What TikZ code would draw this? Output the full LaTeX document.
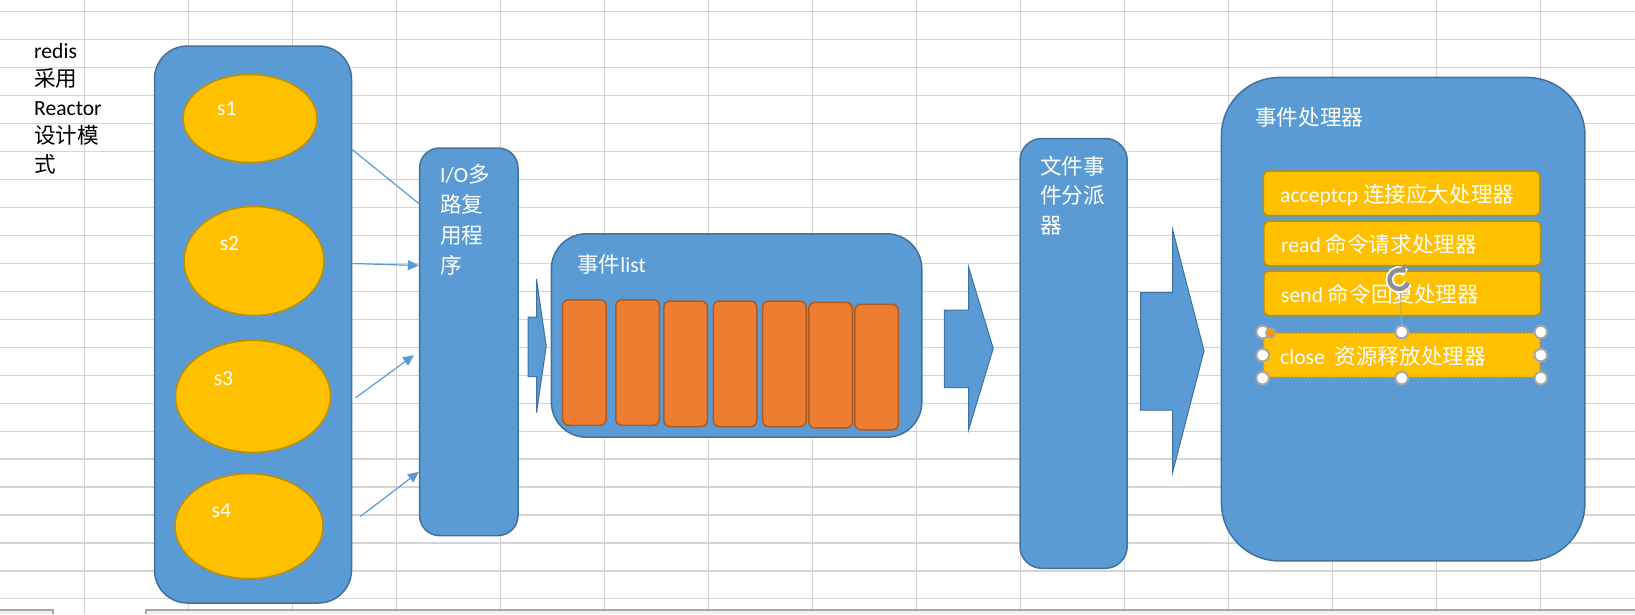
\documentclass[tikz,border=0pt]{standalone}
\usepackage{fontspec}
\setmainfont{Carlito}
\newfontfamily\cjk{Noto Sans CJK SC}
\usetikzlibrary{arrows.meta,shapes.geometric}
\definecolor{boxblue}{HTML}{5B9BD5}
\definecolor{boxedge}{HTML}{41719C}
\definecolor{gold}{HTML}{FFC000}
\definecolor{goldedge}{HTML}{BF9000}
\definecolor{evorange}{HTML}{ED7D31}
\definecolor{evedge}{HTML}{AE5A21}
\definecolor{gridgray}{HTML}{D4D4D4}
\definecolor{handlegray}{HTML}{A6A6A6}
\definecolor{rotgray}{HTML}{8F8F8F}
\begin{document}
\begin{tikzpicture}[x=1pt,y=-1pt,
  txt/.style={inner sep=0, anchor=base west, text=white, align=left, font=\fontsize{21.6}{30}\selectfont},
  bluebox/.style={draw=boxedge, line width=1.5pt, fill=boxblue, inner sep=0},
  sock/.style={ellipse, draw=goldedge, line width=1.5pt, fill=gold, inner sep=0},
  evslot/.style={draw=evedge, line width=1.5pt, fill=evorange, rounded corners=6pt, minimum width=43.5pt, minimum height=125.5pt, inner sep=0},
  handler/.style={draw=goldedge, line width=1.5pt, fill=gold, rounded corners=5pt, minimum width=276.7pt, minimum height=44.6pt, inner sep=0},
  wire/.style={boxblue, line width=1.2pt},
  bigarrow/.style={draw=boxedge, line width=1pt, fill=boxblue},
  handle/.style={draw=handlegray, line width=2pt, fill=white}]
\useasboundingbox (0,0) rectangle (1635,614);
\foreach \x in {0,...,14} \draw[gridgray, line width=1.2pt] (84.6+104*\x,0) -- (84.6+104*\x,614);
\foreach \y in {0,...,21} \draw[gridgray, line width=1.2pt] (0,11.7+27.96*\y) -- (1635,11.7+27.96*\y);
\fill[gray!12] (0,610) rectangle (53,614);
\fill[gray!12] (146,610) rectangle (1635,614);
\draw[gray!70, line width=1.2pt] (0,610) -- (53,610) -- (53,614);
\draw[gray!70, line width=1.2pt] (146,614) -- (146,610) -- (1635,610);

\node[txt, text=black, font=\fontsize{21.6}{28.5}\selectfont] (note) at (34,172) {redis\\{\cjk 采用}\\Reactor\\{\cjk 设计模}\\{\cjk 式}};

\node[bluebox, rounded corners=33pt, minimum width=197pt, minimum height=557pt] (sbox) at (253,324.5) {};
\node[sock, minimum width=134pt, minimum height=88pt] (s1) at (250,118.5) {};
\node[sock, minimum width=140pt, minimum height=109pt] (s2) at (254,261) {};
\node[sock, minimum width=155pt, minimum height=112pt] (s3) at (253,396.4) {};
\node[sock, minimum width=148pt, minimum height=105pt] (s4) at (249,526.2) {};
\node[txt] (s1lbl) at (217,115.5) {s1};
\node[txt] (s2lbl) at (219.6,250.6) {s2};
\node[txt] (s3lbl) at (213.6,385.7) {s3};
\node[txt] (s4lbl) at (211.4,517.6) {s4};

\node[bluebox, rounded corners=20pt, minimum width=98.4pt, minimum height=387.6pt] (iobox) at (468.8,341.8) {};
\node[txt, font=\fontsize{21.6}{30.5}\selectfont] (iolbl) at (440,273.5) {I/O{\cjk 多}\\{\cjk 路复}\\{\cjk 用程}\\{\cjk 序}};

\draw[wire] (sbox.east |- 0,149.6) -- (iobox.west |- 0,203.6);
\draw[wire, -{Triangle[length=11pt, width=10pt]}] (sbox.east |- 0,263.5) -- (iobox.west |- 0,265.5);
\draw[wire, -{Triangle[length=11pt, width=10pt]}, shorten <=4pt, shorten >=6pt] (sbox.east |- 0,400.2) -- (iobox.west |- 0,351.6);
\draw[wire, -{Triangle[length=11pt, width=10pt]}, shorten <=10pt] (sbox.east |- 0,522.7) -- (iobox.west |- 0,471.8);

\draw[bigarrow] (528,317) -- (536.5,317) -- (536.5,279) -- (546.2,346.3) -- (536.5,412.7) -- (536.5,376.5) -- (528,376.5) -- cycle;

\node[bluebox, rounded corners=35pt, minimum width=370.4pt, minimum height=203.4pt] (evlist) at (736.6,335.5) {};
\node[txt] (evlbl) at (577,272) {{\cjk 事件}list};
\foreach \x/\y [count=\i] in {584.4/362.5, 637.5/362.5, 685.6/363.8, 735/363.8, 784.3/363.8, 830.6/365.2, 876.5/367}
  \node[evslot] (ev\i) at (\x,\y) {};

\draw[bigarrow] (944.3,310) -- (968.7,310) -- (968.7,267.5) -- (993.2,348.5) -- (968.7,429.5) -- (968.7,387.7) -- (944.3,387.7) -- cycle;

\node[bluebox, rounded corners=22pt, minimum width=107.2pt, minimum height=429.8pt] (dispatch) at (1073.6,353.4) {};
\node[txt, font=\fontsize{21.6}{29.7}\selectfont] (displbl) at (1040,233.4) {{\cjk 文件事}\\{\cjk 件分派}\\{\cjk 器}};

\draw[bigarrow] (1140.6,292.7) -- (1172.7,292.7) -- (1172.7,230) -- (1204,350.8) -- (1172.7,472) -- (1172.7,410) -- (1140.6,410) -- cycle;

\node[bluebox, rounded corners=58pt, minimum width=363.5pt, minimum height=483.5pt] (handlers) at (1403.2,319.2) {};
\node[txt] (hdllbl) at (1255,125) {\cjk 事件处理器};
\node[handler] (accept) at (1401.6,193.4) {};
\node[handler] (read) at (1402.3,243.5) {};
\node[handler] (send) at (1402.3,293.3) {};
\node[handler, dotted] (close) at (1401.7,355.1) {};
\node[txt] (acclbl) at (1280,202.7) {acceptcp {\cjk 连接应大处理器}};
\node[txt] (readlbl) at (1281,252.7) {read {\cjk 命令请求处理器}};
\node[txt] (sendlbl) at (1281,302) {send {\cjk 命令回复处理器}};
\node[txt] (closelbl) at (1280,364) {close\ \ {\cjk 资源释放处理器}};

\draw[handlegray, line width=1pt] (close.north) -- (1400.5,290);
\draw[white, line width=8pt] (1399,279.5) ++(20:9.5) arc[start angle=20, end angle=315, radius=9.5];
\draw[rotgray, line width=4.5pt, -{Triangle[length=7pt, width=12pt]}] (1399,279.5) ++(20:9.5) arc[start angle=20, end angle=315, radius=9.5];
\foreach \p in {close.north west, close.north, close.north east, close.west, close.east, close.south west, close.south, close.south east}
  \draw[handle] (\p) circle (6.3);
\draw[draw=handlegray, line width=1.5pt, fill=orange!85!yellow] (1270.7,333) circle (4.8);
\end{tikzpicture}
\end{document}
